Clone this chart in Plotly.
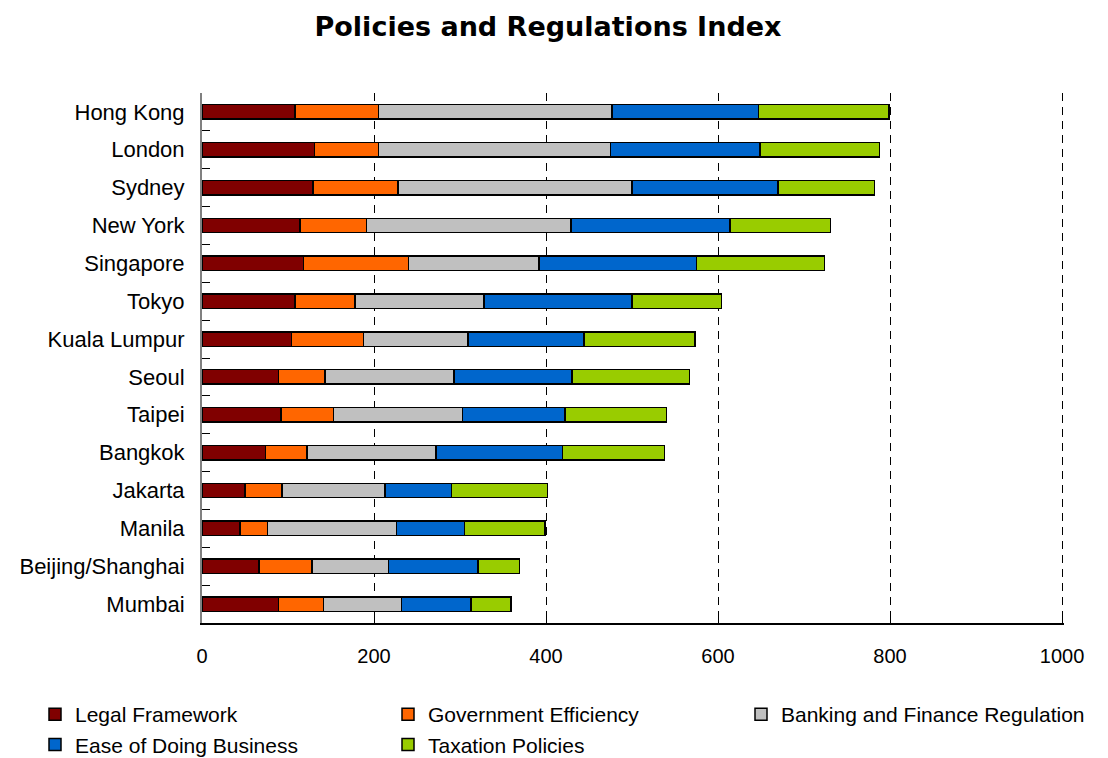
import plotly.graph_objects as go

cities = ["Hong Kong", "London", "Sydney", "New York", "Singapore", "Tokyo",
          "Kuala Lumpur", "Seoul", "Taipei", "Bangkok", "Jakarta", "Manila",
          "Beijing/Shanghai", "Mumbai"]

legal_framework = [108, 131, 129, 114, 118, 108, 104, 89, 92, 74, 50, 44, 66, 89]
government_efficiency = [97, 74, 99, 77, 122, 70, 84, 54, 61, 48, 43, 32, 62, 52]
banking_finance = [272, 270, 272, 238, 152, 150, 121, 150, 150, 150, 120, 150, 89, 91]
ease_of_business = [170, 174, 170, 185, 183, 172, 135, 137, 119, 147, 77, 79, 104, 81]
taxation_policies = [152, 139, 112, 117, 149, 104, 129, 137, 118, 119, 112, 94, 48, 46]

series = [
    ("Legal Framework", legal_framework, "#800000"),
    ("Government Efficiency", government_efficiency, "#FF6600"),
    ("Banking and Finance Regulation", banking_finance, "#C0C0C0"),
    ("Ease of Doing Business", ease_of_business, "#0066CC"),
    ("Taxation Policies", taxation_policies, "#99CC00"),
]

x_ticks = [0, 200, 400, 600, 800, 1000]

fig = go.Figure()
for name, values, color in series:
    fig.add_trace(go.Bar(
        y=cities, x=values, name=name, orientation="h",
        marker=dict(color=color, line=dict(color="#000000", width=1.5)),
    ))

base_font = "Liberation Sans, Arial, sans-serif"
y_font = dict(family=base_font, size=22, color="#000000")
x_font = dict(family=base_font, size=20, color="#000000")
legend_font = dict(family=base_font, size=21, color="#000000")

W, H = 1108, 758
M_L, M_R, M_T, M_B = 202, 44, 93, 135
plot_w = W - M_L - M_R
plot_h = H - M_T - M_B

fig.update_layout(
    barmode="stack",
    bargap=0.62,
    width=W, height=H,
    margin=dict(l=M_L, r=M_R, t=M_T, b=M_B, autoexpand=False),
    paper_bgcolor="white", plot_bgcolor="white",
    title=dict(text="<b>Policies and Regulations Index</b>",
               font=dict(family="DejaVu Sans, Verdana, sans-serif", size=27, color="#000000"),
               xref="container", yref="container", x=548 / W, y=1 - 27 / H,
               xanchor="center", yanchor="middle"),
    font=x_font,
    # legend sits below the plot, anchored in the left margin, three entries per row
    legend=dict(orientation="h", xref="paper", yref="paper",
                x=(35 - M_L) / plot_w, y=-(694 - (H - M_B)) / plot_h,
                xanchor="left", yanchor="top",
                entrywidth=308, entrywidthmode="pixels", traceorder="normal",
                font=legend_font, itemclick=False),
)

# extend the range a touch past 1000 so the last dashed gridline is drawn
fig.update_xaxes(
    range=[0, 1002.3], tickvals=x_ticks, ticktext=[str(v) for v in x_ticks],
    showgrid=True, gridcolor="#000000", griddash="8px,6px", gridwidth=1,
    showline=True, linecolor="#000000", linewidth=1.5,
    ticks="inside", ticklen=7, tickcolor="#000000",
    ticklabelstandoff=14, tickfont=x_font, zeroline=False,
)
fig.update_yaxes(
    autorange="reversed", type="category",
    showgrid=False, showline=True, linecolor="#808080", linewidth=2,
    ticks="inside", tickson="boundaries", ticklen=8, tickcolor="#000000",
    ticklabelstandoff=11, tickfont=y_font,
)

fig.write_html("out.html")
